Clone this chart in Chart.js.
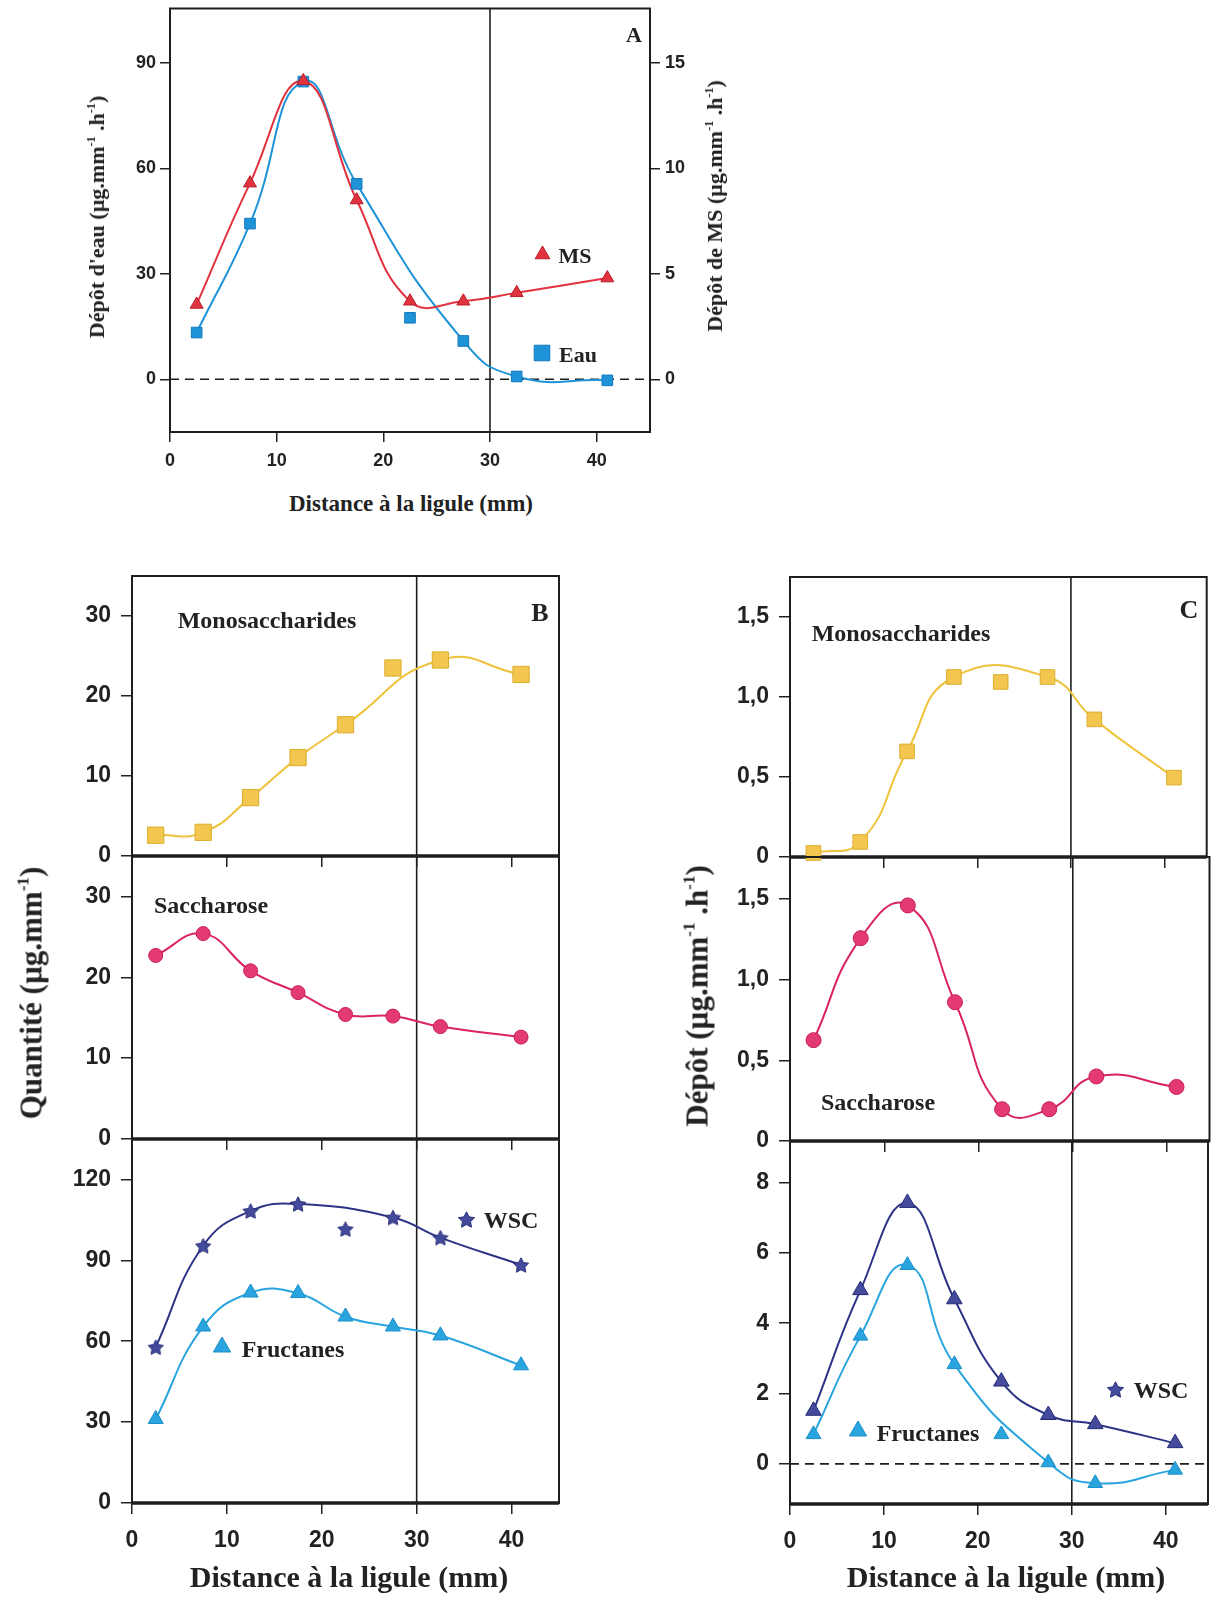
<!DOCTYPE html>
<html>
<head>
<meta charset="utf-8">
<script src="https://cdn.jsdelivr.net/npm/chart.js@4.4.1/dist/chart.umd.min.js"></script>
<style>
  html, body { margin: 0; padding: 0; background: #fff; }
  #page { position: relative; width: 1218px; height: 1598px; overflow: hidden; background: #fff; }
  #page canvas { position: absolute; }
  .lbl { position: absolute; white-space: nowrap; font-family: "Liberation Serif", "Times New Roman", serif;
         font-weight: bold; color: #222; line-height: 1; transform: translate(-50%, -50%); }
  .rot { transform: translate(-50%, -50%) rotate(-90deg); }
  .lbl sup { font-size: 0.55em; line-height: 0; vertical-align: 0.75em; }
</style>
</head>
<body>
<div id="page"></div>
<script>
// distances from the ligule (mm), same for every series
const distances = [2.5, 7.5, 12.5, 17.5, 22.5, 27.5, 32.5, 41];
const xTicks = [0, 10, 20, 30, 40];

// A : water (left axis) and dry matter (right axis) deposition
const eauA = [13.3, 44.3, 84.7, 55.6, 17.5, 10.9, 0.8, -0.3];
const msA = [3.55, 9.3, 14.15, 8.5, 3.7, 3.7, 4.1, 4.8];
const ticksA = [0, 30, 60, 90];
const ticksA2 = [0, 5, 10, 15];

// B : quantities
const monoB = [2.6, 2.96, 7.3, 12.3, 16.4, 23.5, 24.5, 22.7];
const saccB = [22.7, 25.4, 20.8, 18.1, 15.4, 15.2, 13.9, 12.6];
const wscB = [57.8, 95.4, 108.3, 110.9, 101.6, 105.9, 98.4, 88.3];
const fructB = [31.1, 65.4, 78, 77.8, 69.1, 65.4, 62.1, 51];
const ticksB = [0, 10, 20, 30];
const ticksBwsc = [0, 30, 60, 90, 120];

// C : deposition
const monoC = [0.025, 0.094, 0.66, 1.125, 1.094, 1.125, 0.86, 0.496];
const saccC = [0.625, 1.257, 1.46, 0.86, 0.197, 0.197, 0.4, 0.335];
const wscC = [1.51, 4.94, 7.42, 4.68, 2.34, 1.39, 1.13, 0.59];
const fructC = [0.84, 3.64, 5.65, 2.83, 0.84, 0.04, -0.55, -0.17];
const ticksC = [0, 0.5, 1, 1.5];
const ticksClabels = ['0', '0,5', '1,0', '1,5'];
const ticksCwsc = [0, 2, 4, 6, 8];

const col = {
  ms: '#e1323f', msEdge: '#b81f2c',
  eau: '#1f93d8', eauEdge: '#1279bd',
  mono: '#eec23a', monoFill: '#f2c64f', monoEdge: '#dcae2c',
  sacc: '#d9245f', saccFill: '#e33a76', saccEdge: '#c81c55',
  wsc: '#2d3486', wscFill: '#454b9b', wscEdge: '#262b78',
  fruct: '#2aa4de', fructEdge: '#1b8fc9'
};

const page = document.getElementById('page');

function pts(ys, skip) {
  return distances.map((d, i) => ({ x: d, y: skip && skip.includes(i) ? null : ys[i] }));
}

function starImage(size, fill, stroke) {
  const c = document.createElement('canvas');
  c.width = c.height = size;
  const g = c.getContext('2d');
  const cx = size / 2, cy = size / 2 + 0.8, R = size / 2 - 1, r = R * 0.5;
  g.beginPath();
  for (let i = 0; i < 10; i++) {
    const a = -Math.PI / 2 + i * Math.PI / 5;
    const rr = i % 2 ? r : R;
    g.lineTo(cx + rr * Math.cos(a), cy + rr * Math.sin(a));
  }
  g.closePath();
  g.fillStyle = fill; g.fill();
  g.strokeStyle = stroke; g.lineWidth = 1; g.stroke();
  return c;
}

function markers(ys, style, radius, fill, stroke, axis) {
  return {
    data: pts(ys), showLine: false, pointStyle: style, pointRadius: radius,
    pointBackgroundColor: fill, pointBorderColor: stroke, pointBorderWidth: 1,
    clip: false, yAxisID: axis || 'y'
  };
}

function curve(ys, color, skip, axis, tension) {
  return {
    data: pts(ys, skip), showLine: true, spanGaps: true, tension: tension || 0.45,
    borderColor: color, borderWidth: 2, pointRadius: 0, fill: false,
    clip: false, yAxisID: axis || 'y'
  };
}

const framePlugin = {
  id: 'frame',
  beforeDatasetsDraw(chart, args, opts) {
    const { ctx, chartArea: a } = chart;
    const sx = chart.scales.x, sy = chart.scales.y;
    const seg = (x1, y1, x2, y2) => { ctx.beginPath(); ctx.moveTo(x1, y1); ctx.lineTo(x2, y2); ctx.stroke(); };
    ctx.save();
    ctx.strokeStyle = '#1e1e1e';
    if (opts.zero) {
      const y0 = sy.getPixelForValue(0);
      ctx.setLineDash([9, 6]);
      ctx.lineWidth = 1.6;
      seg(a.left, y0, a.right, y0);
      ctx.setLineDash([]);
    }
    const xv = sx.getPixelForValue(30);
    ctx.lineWidth = 1.6;
    seg(xv, a.top, xv, a.bottom);
    ctx.lineWidth = opts.side;
    ctx.strokeRect(a.left, a.top, a.right - a.left, a.bottom - a.top);
    ctx.lineWidth = opts.bottom;
    seg(a.left, a.bottom, a.right, a.bottom);
    ctx.restore();
  }
};

function fixed(size, horizontal) {
  return (s) => {
    if (horizontal) s.height = size; else s.width = size;
    s.paddingLeft = s.paddingRight = s.paddingTop = s.paddingBottom = 0;
  };
}

function tickFont(size) {
  return { family: '"Liberation Sans", Arial, sans-serif', weight: 'bold', size };
}

function yAxis(p, vals, labels, width, position) {
  return {
    type: 'linear', position, min: p.min, max: p.max,
    afterBuildTicks: (s) => { s.ticks = vals.map((v) => ({ value: v })); },
    afterFit: fixed(width, false),
    grid: { drawOnChartArea: false, tickLength: p.tickLen || 11, color: '#222', lineWidth: 1.5 },
    border: { display: false },
    ticks: { font: tickFont(p.font), color: '#222', padding: p.pad,
             callback: (v, i) => (labels ? labels[i] : String(v)) }
  };
}

function makePanel(p) {
  const cv = document.createElement('canvas');
  cv.width = p.box.width; cv.height = p.box.height;
  cv.style.left = p.box.left + 'px'; cv.style.top = p.box.top + 'px';
  cv.style.width = p.box.width + 'px'; cv.style.height = p.box.height + 'px';
  page.appendChild(cv);

  const yWidth = p.area.l - p.box.left;
  const rightPad = p.box.left + p.box.width - p.area.r;
  const topPad = p.area.t - p.box.top;
  const xHeight = p.box.top + p.box.height - p.area.b;

  const scales = {
    x: {
      type: 'linear', position: 'bottom', min: 0, max: p.xMax,
      afterBuildTicks: (s) => { s.ticks = xTicks.map((v) => ({ value: v })); },
      afterFit: fixed(xHeight, true),
      grid: { drawOnChartArea: false, tickLength: p.xTickLen || 11, color: '#222', lineWidth: 1.5 },
      border: { display: false },
      ticks: { display: !!p.xLabels, font: tickFont(p.xFont || 23), color: '#222',
               padding: p.xPad || 12, maxRotation: 0, autoSkip: false }
    },
    y: yAxis(p.y, p.y.ticks, p.y.labels, yWidth, 'left')
  };
  if (p.y2) scales.y2 = yAxis(p.y2, p.y2.ticks, null, rightPad, 'right');

  return new Chart(cv, {
    type: 'line',
    data: { datasets: p.datasets },
    options: {
      responsive: false, animation: false, events: [],
      layout: { padding: { left: 0, top: topPad, right: p.y2 ? 0 : rightPad, bottom: 0 } },
      plugins: {
        legend: { display: false }, tooltip: { enabled: false },
        frame: { zero: !!p.zero, side: p.side || 2, bottom: p.bottom || 2 }
      },
      scales
    },
    plugins: [framePlugin]
  });
}

function addText(html, x, y, size, rotate) {
  const d = document.createElement('div');
  d.className = 'lbl' + (rotate ? ' rot' : '');
  d.style.left = x + 'px'; d.style.top = y + 'px'; d.style.fontSize = size + 'px';
  d.innerHTML = html;
  page.appendChild(d);
}

function legendMark(kind, x, y, r, fill, stroke) {
  const s = Math.ceil(r * 2 + 4);
  const c = document.createElement('canvas');
  c.width = c.height = s;
  c.style.left = (x - s / 2) + 'px'; c.style.top = (y - s / 2) + 'px';
  const g = c.getContext('2d');
  const cx = s / 2, cy = s / 2;
  g.fillStyle = fill; g.strokeStyle = stroke; g.lineWidth = 1;
  if (kind === 'star') {
    g.drawImage(starImage(Math.round(r * 2), fill, stroke), cx - r, cy - r);
  } else {
    g.beginPath();
    if (kind === 'rect') {
      const h = r * Math.SQRT1_2;
      g.rect(cx - h, cy - h, 2 * h, 2 * h);
    } else {
      for (let i = 0; i < 3; i++) {
        const a = i * 2 * Math.PI / 3;
        g.lineTo(cx + Math.sin(a) * r, cy - Math.cos(a) * r);
      }
      g.closePath();
    }
    g.fill(); g.stroke();
  }
  page.appendChild(c);
}

const starB = starImage(18, col.wscFill, col.wscEdge);

// ---- Panel A
makePanel({
  box: { left: 90, top: 0, width: 640, height: 478 },
  area: { l: 170, t: 8, r: 650, b: 432 },
  xMax: 45, xLabels: true, xFont: 18, xPad: 8, xTickLen: 10,
  y: { min: -15, max: 105.5, ticks: ticksA, font: 18, pad: 4, tickLen: 10 },
  y2: { min: -2.5, max: 105.5 / 6, ticks: ticksA2, font: 18, pad: 5, tickLen: 10 },
  zero: true,
  datasets: [
    markers(msA, 'triangle', 7.5, col.ms, col.msEdge, 'y2'),
    markers(eauA, 'rect', 7.5, col.eau, col.eauEdge),
    curve(msA, col.ms, null, 'y2'),
    curve(eauA, col.eau, [4], 'y', 0.5)
  ]
});

// ---- Panel B
makePanel({
  box: { left: 30, top: 560, width: 550, height: 312 },
  area: { l: 132, t: 576, r: 559, b: 856 },
  xMax: 45, bottom: 3.5,
  y: { min: 0, max: 35, ticks: ticksB, font: 23, pad: 10 },
  datasets: [markers(monoB, 'rect', 11.5, col.monoFill, col.monoEdge), curve(monoB, col.mono, [5], 'y', 0.5)]
});
makePanel({
  box: { left: 30, top: 840, width: 550, height: 315 },
  area: { l: 132, t: 856, r: 559, b: 1139 },
  xMax: 45, bottom: 3.5,
  y: { min: 0, max: 35, ticks: ticksB, font: 23, pad: 10 },
  datasets: [markers(saccB, 'circle', 7, col.saccFill, col.saccEdge), curve(saccB, col.sacc)]
});
makePanel({
  box: { left: 30, top: 1123, width: 550, height: 447 },
  area: { l: 132, t: 1139, r: 559, b: 1503 },
  xMax: 45, bottom: 3.5, xLabels: true, xFont: 23, xPad: 13,
  y: { min: 0, max: 135, ticks: ticksBwsc, font: 23, pad: 10 },
  datasets: [
    markers(wscB, starB, 8, col.wscFill, col.wscEdge),
    markers(fructB, 'triangle', 8.7, col.fruct, col.fructEdge),
    curve(wscB, col.wsc, [4]),
    curve(fructB, col.fruct)
  ]
});

// ---- Panel C
makePanel({
  box: { left: 690, top: 561, width: 528, height: 312 },
  area: { l: 790, t: 577, r: 1214, b: 857 },
  xMax: 44.5, bottom: 3.5,
  y: { min: 0, max: 1.75, ticks: ticksC, labels: ticksClabels, font: 23, pad: 10 },
  datasets: [markers(monoC, 'rect', 10.3, col.monoFill, col.monoEdge), curve(monoC, col.mono, [4], 'y', 0.5)]
});
makePanel({
  box: { left: 690, top: 841, width: 528, height: 316 },
  area: { l: 790, t: 857, r: 1214, b: 1141 },
  xMax: 44.5, bottom: 3.5,
  y: { min: 0, max: 1.76, ticks: ticksC, labels: ticksClabels, font: 23, pad: 10 },
  datasets: [markers(saccC, 'circle', 7.5, col.saccFill, col.saccEdge), curve(saccC, col.sacc, null, 'y', 0.5)]
});
makePanel({
  box: { left: 690, top: 1125, width: 528, height: 445 },
  area: { l: 790, t: 1141, r: 1214, b: 1504 },
  xMax: 44.5, bottom: 3.5, xLabels: true, xFont: 23, xPad: 13, zero: true,
  y: { min: -1.14, max: 9.18, ticks: ticksCwsc, font: 23, pad: 10 },
  datasets: [
    markers(wscC, 'triangle', 9, col.wscFill, col.wscEdge),
    markers(fructC, 'triangle', 8.5, col.fruct, col.fructEdge),
    curve(wscC, col.wsc),
    curve(fructC, col.fruct, [4], 'y', 0.5)
  ]
});

// ---- texts and legend marks
const unit1 = '(µg.mm<sup>-1</sup> .h<sup>-1</sup>)';
addText('A', 634, 35, 22);
legendMark('tri', 542, 254, 8.5, col.ms, col.msEdge);
addText('MS', 575, 256, 22);
legendMark('rect', 542, 353, 11, col.eau, col.eauEdge);
addText('Eau', 578, 355, 22);
addText('Distance à la ligule (mm)', 411, 503, 23);
addText('Dépôt d\'eau ' + unit1, 97, 217, 22, true);
addText('Dépôt de MS ' + unit1, 715, 206, 22, true);

addText('Monosaccharides', 267, 620, 24);
addText('B', 540, 613, 26);
addText('Saccharose', 211, 905, 24);
legendMark('star', 466, 1219, 9.5, col.wscFill, col.wscEdge);
addText('WSC', 511, 1220, 24);
legendMark('tri', 222, 1347, 10, col.fruct, col.fructEdge);
addText('Fructanes', 293, 1349, 24);
addText('Distance à la ligule (mm)', 349, 1577, 30);
addText('Quantité (µg.mm<sup>-1</sup>)', 31, 993, 31, true);

addText('Monosaccharides', 901, 633, 24);
addText('C', 1189, 610, 26);
addText('Saccharose', 878, 1102, 24);
legendMark('star', 1115, 1389, 9.5, col.wscFill, col.wscEdge);
addText('WSC', 1161, 1390, 24);
legendMark('tri', 858, 1431, 10, col.fruct, col.fructEdge);
addText('Fructanes', 928, 1433, 24);
addText('Distance à la ligule (mm)', 1006, 1577, 30);
addText('Dépôt ' + unit1, 697, 996, 31, true);
</script>
</body>
</html>
